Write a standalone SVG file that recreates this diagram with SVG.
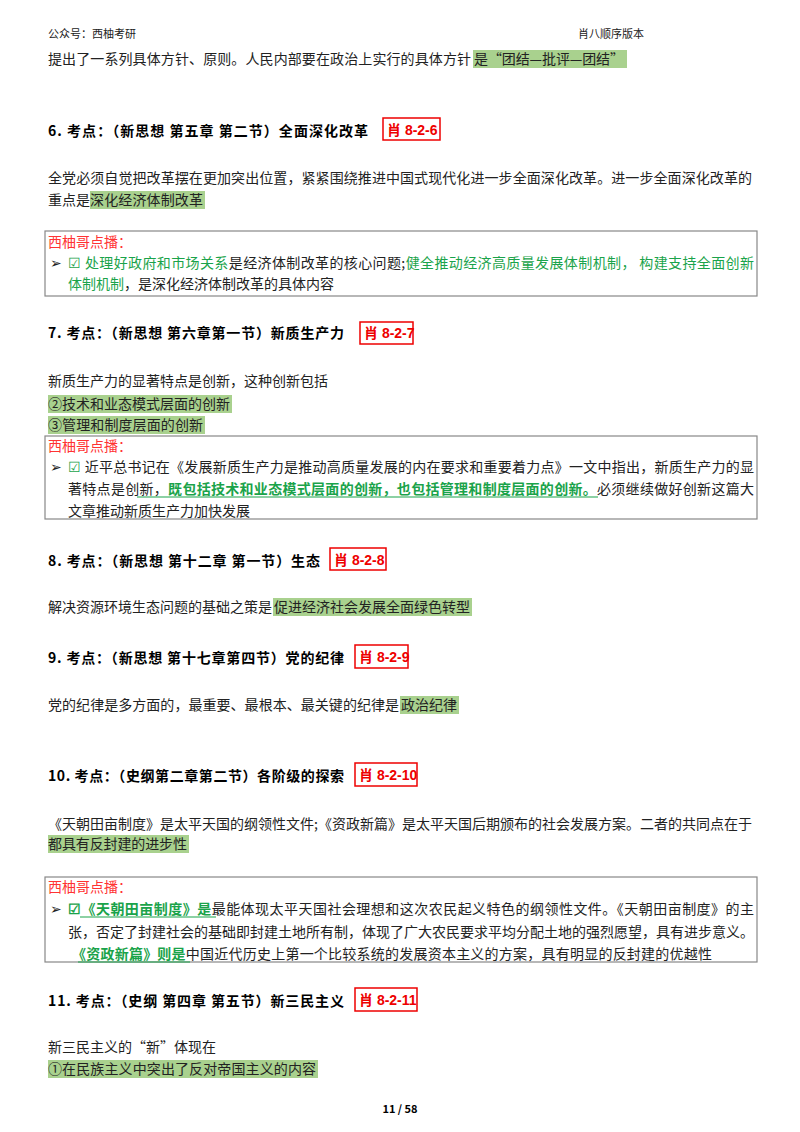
<svg xmlns="http://www.w3.org/2000/svg" width="800" height="1132" viewBox="0 0 800 1132">
<style>
text{font-family:"Noto Sans CJK SC","Liberation Serif",serif;font-size:14px;fill:#222}
.h{font-weight:bold;font-size:14px;fill:#000}
.hl{fill:#a9d18e}
.tag{fill:none;stroke:#e00;stroke-width:1.5}
.tagt{fill:#e00;font-weight:bold;font-family:"Liberation Sans","Noto Sans CJK SC",sans-serif}
.box{fill:none;stroke:#888;stroke-width:1.2}
.red{fill:#f33}
.g{fill:#1aa34a}
.gb{fill:#1aa34a;font-weight:bold}
.ul{stroke:#1aa34a;stroke-width:1.2}
.sm{font-size:11px}
</style>
<rect width="800" height="1132" fill="#fff"/>
<text class="sm" x="48" y="38">公众号：西柚考研</text>
<text class="sm" x="578" y="38">肖八顺序版本</text>
<rect class="hl" x="473" y="50" width="154" height="18"/>
<text x="48" y="64" textLength="423">提出了一系列具体方针、原则。人民内部要在政治上实行的具体方针</text>
<text x="474" y="64" textLength="150">是“团结—批评—团结”</text>

<g id="s6">
<text class="h" x="48" y="136" textLength="320">6.  考点：（新思想 第五章 第二节）全面深化改革</text>
<rect class="tag" x="383" y="118" width="57" height="22"/>
<text class="tagt" x="387" y="135">肖 8-2-6</text>
<text x="48" y="183" textLength="704">全党必须自觉把改革摆在更加突出位置，紧紧围绕推进中国式现代化进一步全面深化改革。进一步全面深化改革的</text>
<rect class="hl" x="90" y="191" width="115" height="18"/>
<text x="48" y="205">重点是</text>
<text x="90" y="205" textLength="113">深化经济体制改革</text>
<rect class="box" x="45" y="231" width="712" height="65"/>
<text class="red" x="48" y="247">西柚哥点播：</text>
<text x="50" y="268">➢</text>
<text x="68" y="268" textLength="686"><tspan class="g">☑ 处理好政府和市场关系</tspan>是经济体制改革的核心问题;<tspan class="g">健全推动经济高质量发展体制机制， 构建支持全面创新</tspan></text>
<text x="68" y="289"><tspan class="g">体制机制</tspan>，是深化经济体制改革的具体内容</text>
</g>

<g id="s7">
<text class="h" x="48" y="338" textLength="296">7.  考点：（新思想 第六章第一节）新质生产力</text>
<rect class="tag" x="360" y="322" width="53" height="22"/>
<text class="tagt" x="364" y="338">肖 8-2-7</text>
<text x="48" y="386">新质生产力的显著特点是创新，这种创新包括</text>
<rect class="hl" x="48" y="395" width="184" height="18"/>
<text x="48" y="409" textLength="182">②技术和业态模式层面的创新</text>
<rect class="hl" x="48" y="416" width="157" height="18"/>
<text x="48" y="430" textLength="155">③管理和制度层面的创新</text>
<rect class="box" x="45" y="436" width="712" height="83"/>
<text class="red" x="48" y="451">西柚哥点播：</text>
<text x="50" y="472">➢</text>
<text x="68" y="472" textLength="686"><tspan class="g">☑</tspan> 近平总书记在《发展新质生产力是推动高质量发展的内在要求和重要着力点》一文中指出，新质生产力的显</text>
<text x="68" y="494" textLength="686">著特点是创新，<tspan class="gb">既包括技术和业态模式层面的创新，也包括管理和制度层面的创新。</tspan>必须继续做好创新这篇大</text>
<line class="ul" x1="137" y1="497" x2="598" y2="497"/>
<text x="68" y="516">文章推动新质生产力加快发展</text>
</g>

<g id="s8">
<text class="h" x="48" y="566" textLength="272">8.  考点：（新思想 第十二章 第一节）生态</text>
<rect class="tag" x="330" y="548" width="56" height="22"/>
<text class="tagt" x="334" y="565">肖 8-2-8</text>
<rect class="hl" x="273" y="598" width="199" height="18"/>
<text x="48" y="612" textLength="224">解决资源环境生态问题的基础之策是</text>
<text x="274" y="612" textLength="196">促进经济社会发展全面绿色转型</text>
</g>

<g id="s9">
<text class="h" x="48" y="663" textLength="296">9.  考点：（新思想 第十七章第四节）党的纪律</text>
<rect class="tag" x="355" y="645" width="53" height="23"/>
<text class="tagt" x="359" y="662">肖 8-2-9</text>
<rect class="hl" x="400" y="696" width="59" height="18"/>
<text x="48" y="710" textLength="351">党的纪律是多方面的，最重要、最根本、最关键的纪律是</text>
<text x="401" y="710" textLength="56">政治纪律</text>
</g>

<g id="s10">
<text class="h" x="48" y="781" textLength="296">10.  考点：（史纲第二章第二节）各阶级的探索</text>
<rect class="tag" x="355" y="763" width="62" height="23"/>
<text class="tagt" x="359" y="780">肖 8-2-10</text>
<text x="48" y="829" textLength="704">《天朝田亩制度》是太平天国的纲领性文件;《资政新篇》是太平天国后期颁布的社会发展方案。二者的共同点在于</text>
<rect class="hl" x="48" y="835" width="141" height="18"/>
<text x="48" y="849" textLength="139">都具有反封建的进步性</text>
<rect class="box" x="45" y="877" width="712" height="85"/>
<text class="red" x="48" y="892">西柚哥点播：</text>
<text x="50" y="914">➢</text>
<text x="68" y="914" textLength="686"><tspan class="gb">☑《天朝田亩制度》是</tspan>最能体现太平天国社会理想和这次农民起义特色的纲领性文件。《天朝田亩制度》的主</text>
<line class="ul" x1="80" y1="917" x2="216" y2="917"/>
<text x="68" y="937" textLength="686">张，否定了封建社会的基础即封建土地所有制，体现了广大农民要求平均分配土地的强烈愿望，具有进步意义。</text>
<text x="72" y="959" textLength="640"><tspan class="gb">《资政新篇》则是</tspan>中国近代历史上第一个比较系统的发展资本主义的方案，具有明显的反封建的优越性</text>
<line class="ul" x1="78" y1="962" x2="190" y2="962"/>
</g>

<g id="s11">
<text class="h" x="48" y="1006" textLength="296">11.  考点：（史纲 第四章 第五节）新三民主义</text>
<rect class="tag" x="355" y="988" width="62" height="23"/>
<text class="tagt" x="359" y="1005">肖 8-2-11</text>
<text x="48" y="1052">新三民主义的“新”体现在</text>
<rect class="hl" x="48" y="1060" width="270" height="18"/>
<text x="48" y="1074" textLength="268">①在民族主义中突出了反对帝国主义的内容</text>
</g>
<text class="h" x="400" y="1113" text-anchor="middle" style="font-size:11px">11 / 58</text>
</svg>
